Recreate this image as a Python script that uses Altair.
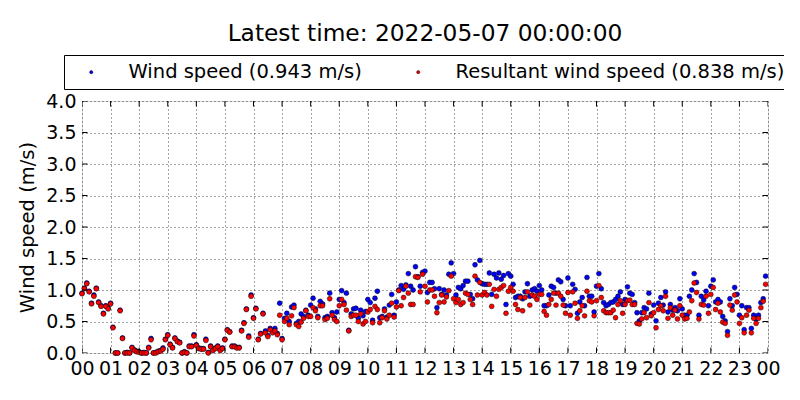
import altair as alt
import pandas as pd

# 5-minute samples, 00:00 .. 23:55
minutes = list(range(0, 1440, 5))

wind_speed = [
    0.95,1.03,1.11,0.98,0.79,0.92,1.03,0.81,0.75,0.63,0.75,0.71,
    0.79,0.41,0.00,0.00,0.68,0.24,0.00,0.01,0.00,0.09,0.05,0.03,
    0.02,0.00,0.01,0.00,0.09,0.23,0.00,0.01,0.03,0.04,0.08,0.22,
    0.29,0.14,0.09,0.24,0.19,0.17,0.00,0.02,0.00,0.11,0.11,0.29,
    0.13,0.08,0.07,0.07,0.22,0.01,0.11,0.05,0.08,0.11,0.05,0.08,
    0.22,0.37,0.34,0.11,0.11,0.09,0.09,0.36,0.48,0.70,0.27,0.92,
    0.56,0.71,0.22,0.31,0.63,0.35,0.28,0.39,0.34,0.39,0.31,0.79,
    0.23,0.55,0.63,0.50,0.73,0.76,0.47,0.50,0.62,0.58,0.68,0.60,
    0.76,0.87,0.70,0.58,0.82,0.78,0.56,0.58,0.95,0.64,0.56,0.65,
    0.85,0.99,0.80,0.95,0.36,0.62,0.70,0.71,0.55,0.68,0.59,0.66,
    0.85,0.80,0.52,0.87,0.98,0.56,0.58,0.70,0.57,0.76,0.93,0.60,
    0.81,1.00,1.07,1.01,1.08,1.26,1.06,1.00,1.37,1.21,1.06,1.28,
    1.30,0.96,1.12,1.12,1.02,0.72,1.02,0.93,1.00,0.92,1.25,1.43,
    1.26,0.92,1.04,1.02,1.07,1.14,1.14,0.93,0.86,1.40,1.16,1.47,
    1.10,1.09,1.09,1.27,0.93,1.25,1.19,1.27,1.17,1.23,0.77,1.26,
    1.22,1.09,0.88,0.90,0.90,0.86,0.97,1.10,0.90,1.00,1.02,0.98,
    1.07,1.00,0.75,0.75,0.92,1.06,1.04,0.95,1.16,1.13,0.85,0.75,
    1.19,0.75,1.09,1.01,0.63,0.81,0.88,0.75,1.20,0.90,0.90,0.65,
    1.06,1.26,1.02,0.80,0.75,0.77,0.80,0.81,0.85,0.90,0.97,0.77,
    0.85,1.05,0.95,0.93,0.80,0.64,0.51,0.64,0.72,0.70,0.95,0.62,
    0.76,0.51,0.79,0.88,0.76,0.97,0.65,0.77,0.68,0.72,0.67,0.86,
    0.70,0.60,0.60,0.90,1.00,1.26,1.12,0.60,0.90,0.84,0.98,0.75,
    1.06,1.16,0.81,0.85,0.81,0.58,0.51,0.34,0.86,0.75,1.04,0.93,
    0.60,0.75,0.37,0.72,0.72,0.39,0.60,0.54,0.60,0.80,0.86,1.22,
]

resultant_speed = [
    0.94,1.02,1.10,0.97,0.78,0.90,1.02,0.80,0.74,0.62,0.74,0.70,
    0.78,0.40,0.00,0.00,0.67,0.23,0.00,0.00,0.00,0.08,0.04,0.02,
    0.01,0.00,0.00,0.00,0.08,0.21,0.00,0.00,0.02,0.03,0.06,0.21,
    0.28,0.13,0.08,0.23,0.18,0.16,0.00,0.01,0.00,0.10,0.10,0.27,
    0.12,0.07,0.06,0.06,0.20,0.00,0.10,0.04,0.07,0.10,0.04,0.07,
    0.21,0.36,0.33,0.10,0.10,0.08,0.08,0.35,0.47,0.69,0.25,0.90,
    0.55,0.70,0.21,0.30,0.62,0.32,0.26,0.37,0.32,0.35,0.29,0.60,
    0.21,0.50,0.55,0.45,0.59,0.72,0.45,0.42,0.49,0.55,0.67,0.58,
    0.58,0.72,0.67,0.56,0.75,0.75,0.53,0.55,0.86,0.60,0.53,0.50,
    0.75,0.85,0.77,0.68,0.35,0.58,0.60,0.60,0.50,0.62,0.46,0.50,
    0.65,0.69,0.48,0.74,0.69,0.48,0.56,0.67,0.54,0.60,0.79,0.57,
    0.73,0.99,0.75,0.88,1.06,0.95,0.77,0.77,1.21,1.20,0.97,1.25,
    1.06,0.81,1.00,1.00,0.90,0.64,0.80,0.92,0.81,0.89,0.99,1.22,
    0.86,0.80,0.85,0.77,0.80,0.95,0.93,0.85,0.77,1.22,0.92,1.12,
    0.92,0.96,0.92,1.09,0.74,1.01,0.90,1.01,1.04,1.07,0.63,0.98,
    1.04,0.98,0.77,0.69,0.88,0.67,0.88,0.97,0.76,0.92,0.90,0.85,
    0.93,0.93,0.66,0.60,0.77,0.85,0.95,0.76,0.95,0.90,0.76,0.63,
    0.96,0.60,0.97,0.79,0.55,0.67,0.75,0.59,0.98,0.83,0.81,0.59,
    0.83,1.07,0.88,0.67,0.64,0.64,0.64,0.68,0.56,0.77,0.83,0.63,
    0.77,0.83,0.84,0.77,0.77,0.47,0.46,0.54,0.64,0.56,0.80,0.59,
    0.64,0.40,0.69,0.75,0.67,0.90,0.55,0.72,0.60,0.68,0.54,0.75,
    0.60,0.54,0.55,0.65,0.83,1.11,0.96,0.54,0.77,0.76,0.90,0.63,
    0.93,1.04,0.69,0.79,0.65,0.49,0.47,0.28,0.76,0.68,0.92,0.81,
    0.47,0.56,0.32,0.60,0.68,0.32,0.55,0.47,0.55,0.72,0.82,1.09,
]

series_names = ["Wind speed (0.943 m/s)", "Resultant wind speed (0.838 m/s)"]
series_colors = ["#0000ff", "#ff0000"]

x_ticks = list(range(25))
x_tick_labels = ["00", "01", "02", "03", "04", "05", "06", "07", "08", "09",
                 "10", "11", "12", "13", "14", "15", "16", "17", "18", "19",
                 "20", "21", "22", "23", "00"]
y_ticks = [0.0, 0.5, 1.0, 1.5, 2.0, 2.5, 3.0, 3.5, 4.0]

title_text = "Latest time: 2022-05-07 00:00:00"
y_title = "Wind speed (m/s)"

hours = [m / 60 for m in minutes]
df = pd.DataFrame({
    "hour": hours + hours,
    "speed": wind_speed + resultant_speed,
    "series": [series_names[0]] * len(hours) + [series_names[1]] * len(hours),
})

FONT = "DejaVu Sans"
FS = 19.5

xs = alt.Scale(domain=[0, 24], nice=False, zero=False)
ys = alt.Scale(domain=[0, 4], nice=False, zero=False)

label_expr = "[" + ",".join("'%s'" % s for s in x_tick_labels) + "][round(datum.value)]"

x_axis = alt.Axis(values=x_ticks, labelExpr=label_expr, title=None, grid=True,
                  gridColor="black", gridDash=[1, 3], gridWidth=0.8, gridOpacity=0.9,
                  ticks=False, tickSize=0, domain=False, labelPadding=6,
                  labelFont=FONT, labelFontSize=19, labelColor="black",
                  labelOverlap=False, labelFlush=False, labelBound=False)
y_axis = alt.Axis(values=y_ticks, format=".1f", title=y_title, grid=True,
                  gridColor="black", gridDash=[1, 3], gridWidth=0.8, gridOpacity=0.9,
                  ticks=False, tickSize=0, domain=False, labelPadding=6,
                  labelFont=FONT, labelFontSize=19, labelColor="black",
                  labelOverlap=False, labelFlush=False, labelBound=False,
                  titleFont=FONT, titleFontSize=FS, titleFontWeight="normal",
                  titleColor="black", titlePadding=8)

legend = alt.Legend(title=None, orient="none", legendX=-18, legendY=-46,
                    direction="horizontal", columns=2, columnPadding=36,
                    symbolType="circle", symbolSize=10, symbolOffset=10.5,
                    symbolStrokeColor="black", symbolStrokeWidth=0.5,
                    labelOffset=27.5, padding=7, strokeColor="black",
                    fillColor="white", cornerRadius=0, labelLimit=500,
                    labelFont=FONT, labelFontSize=FS, labelColor="black")

points = alt.Chart(df).mark_circle(size=24, stroke="black", strokeWidth=0.5,
                                   opacity=1).encode(
    x=alt.X("hour:Q", scale=xs, axis=x_axis),
    y=alt.Y("speed:Q", scale=ys, axis=y_axis),
    color=alt.Color("series:N", scale=alt.Scale(domain=series_names, range=series_colors),
                    legend=legend),
)

xt = pd.DataFrame({"hour": x_ticks})
yt = pd.DataFrame({"speed": y_ticks})

tick_style = dict(color="black", thickness=1, size=11, clip=True, opacity=1)

bottom_ticks = alt.Chart(xt).mark_tick(orient="vertical", **tick_style).encode(
    x=alt.X("hour:Q", scale=xs, axis=x_axis), y=alt.YDatum(0, scale=ys, axis=y_axis))
top_ticks = alt.Chart(xt).mark_tick(orient="vertical", **tick_style).encode(
    x=alt.X("hour:Q", scale=xs, axis=x_axis), y=alt.YDatum(4, scale=ys, axis=y_axis))
left_ticks = alt.Chart(yt).mark_tick(orient="horizontal", **tick_style).encode(
    y=alt.Y("speed:Q", scale=ys, axis=y_axis), x=alt.XDatum(0, scale=xs, axis=x_axis))
right_ticks = alt.Chart(yt).mark_tick(orient="horizontal", **tick_style).encode(
    y=alt.Y("speed:Q", scale=ys, axis=y_axis), x=alt.XDatum(24, scale=xs, axis=x_axis))

chart = alt.layer(points, bottom_ticks, top_ticks, left_ticks, right_ticks).properties(
    width=686, height=252,
    title=alt.TitleParams(title_text, font=FONT, fontSize=23.3, fontWeight="normal",
                          color="black", anchor="middle", offset=8),
    autosize=alt.AutoSizeParams(type="none"),
    padding={"left": 74, "top": 93, "right": 16, "bottom": 32},
).configure_view(stroke="black", strokeWidth=1).configure(background="white")

chart.save("out.html", embed_options={"renderer": "svg", "actions": False})
